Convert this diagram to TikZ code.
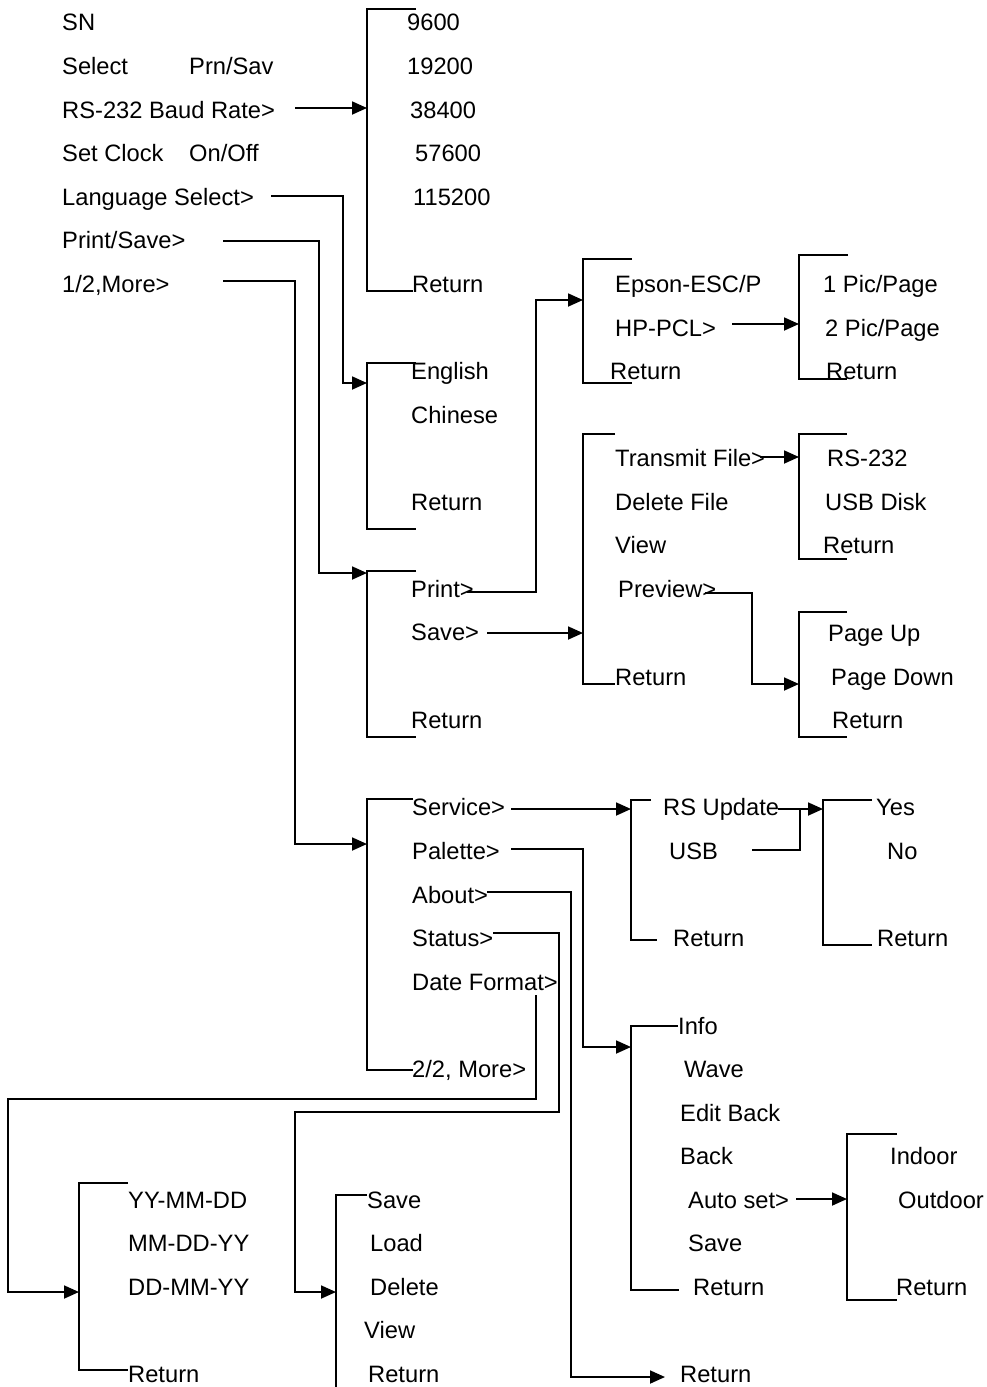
\documentclass[tikz,border=0pt]{standalone}
\usepackage{fontspec}
\setmainfont{Liberation Sans}
\usetikzlibrary{arrows.meta}
\tikzset{
  lbl/.style={anchor=base west,inner sep=0pt,font=\fontsize{23.7}{28}\selectfont},
  wire/.style={line width=1.8pt},
  arr/.style={wire,-{Triangle[length=15pt,width=13pt]}},
  brk/.style={wire}
}
% item text: name, x, y of the text centre line, text
\newcommand\itm[4]{\node[lbl] (#1) at (#2,#3+8.5) {#4};}
\begin{document}
\begin{tikzpicture}[x=1pt,y=-1pt]
\useasboundingbox (0,0) rectangle (987,1387);

% ---- main menu
\itm{sn}{62}{22}{SN}
\itm{sel}{62}{66}{Select}
\itm{prnsav}{189}{66}{Prn/Sav}
\itm{baud}{62}{110}{RS-232 Baud Rate>}
\itm{clk}{62}{153}{Set Clock}
\itm{onoff}{189}{153}{On/Off}
\itm{lang}{62}{197}{Language Select>}
\itm{ps}{62}{240}{Print/Save>}
\itm{more}{62}{284}{1/2,More>}

% ---- baud rates
\itm{b1}{407}{22}{9600}
\itm{b2}{407}{66}{19200}
\itm{b3}{410}{110}{38400}
\itm{b4}{415}{153}{57600}
\itm{b5}{413}{197}{115200}
\itm{bret}{412}{284}{Return}
\draw[brk] (416,9) -- (367,9) -- (367,291) -- (413,291);
\coordinate (baudOut) at (295,108);
\coordinate (baudIn) at (367,108);
\draw[arr] (baudOut) -- (baudIn);

% ---- language
\itm{eng}{411}{371}{English}
\itm{chn}{411}{415}{Chinese}
\itm{lret}{411}{502}{Return}
\draw[brk] (416,363) -- (367,363) -- (367,529) -- (416,529);
\coordinate (langOut) at (271,196);
\coordinate (langIn) at (367,383);
\draw[arr] (langOut) -| (343,383) -- (langIn);

% ---- print / save
\itm{prt}{411}{589}{Print>}
\itm{sav}{411}{632}{Save>}
\itm{pret}{411}{720}{Return}
\draw[brk] (416,571) -- (367,571) -- (367,737) -- (416,737);
\coordinate (psOut) at (223,241);
\coordinate (psIn) at (367,573);
\draw[arr] (psOut) -| (319,573) -- (psIn);

% ---- printer type
\itm{eps}{615}{284}{Epson-ESC/P}
\itm{hp}{615}{328}{HP-PCL>}
\itm{eret}{610}{371}{Return}
\draw[brk] (632,259) -- (583,259) -- (583,383) -- (632,383);
\coordinate (prtOut) at (467,592);
\coordinate (prtIn) at (583,300);
\draw[arr] (prtOut) -| (536,300) -- (prtIn);

% ---- pictures per page
\itm{pic1}{823}{284}{1 Pic/Page}
\itm{pic2}{825}{328}{2 Pic/Page}
\itm{picret}{826}{371}{Return}
\draw[brk] (848,255) -- (799,255) -- (799,379) -- (847,379);
\coordinate (hpOut) at (732,324);
\coordinate (hpIn) at (799,324);
\draw[arr] (hpOut) -- (hpIn);

% ---- save menu
\itm{tx}{615}{458}{Transmit File>}
\itm{del}{615}{502}{Delete File}
\itm{view}{615}{545}{View}
\itm{prev}{618}{589}{Preview>}
\itm{sret}{615}{677}{Return}
\draw[brk] (615,434) -- (583,434) -- (583,684) -- (615,684);
\coordinate (savOut) at (487,633);
\coordinate (savIn) at (583,633);
\draw[arr] (savOut) -- (savIn);

% ---- transmit port
\itm{rs}{827}{458}{RS-232}
\itm{usbd}{825}{502}{USB Disk}
\itm{tret}{823}{545}{Return}
\draw[brk] (847,434) -- (799,434) -- (799,559) -- (847,559);
\coordinate (txOut) at (760,457);
\coordinate (txIn) at (799,457);
\draw[arr] (txOut) -- (txIn);

% ---- preview pages
\itm{pup}{828}{633}{Page Up}
\itm{pdn}{831}{677}{Page Down}
\itm{pvret}{832}{720}{Return}
\draw[brk] (847,612) -- (799,612) -- (799,737) -- (847,737);
\coordinate (prevOut) at (705,593);
\coordinate (prevIn) at (799,684);
\draw[arr] (prevOut) -| (752,684) -- (prevIn);

% ---- second page of main menu
\itm{svc}{412}{807}{Service>}
\itm{pal}{412}{851}{Palette>}
\itm{abt}{412}{895}{About>}
\itm{sts}{412}{938}{Status>}
\itm{dfm}{412}{982}{Date Format>}
\itm{more2}{412}{1069}{2/2, More>}
\draw[brk] (413,799) -- (367,799) -- (367,1070) -- (413,1070);
\coordinate (moreOut) at (223,281);
\coordinate (moreIn) at (367,844);
\draw[arr] (moreOut) -| (295,844) -- (moreIn);

% ---- service
\itm{rsu}{663}{807}{RS Update}
\itm{usb}{669}{851}{USB}
\itm{svret}{673}{938}{Return}
\draw[brk] (651,800) -- (631,800) -- (631,940) -- (657,940);
\coordinate (svcOut) at (511,809);
\coordinate (svcIn) at (631,809);
\draw[arr] (svcOut) -- (svcIn);

% ---- confirm update
\itm{yes}{876}{807}{Yes}
\itm{no}{887}{851}{No}
\itm{yret}{877}{938}{Return}
\draw[brk] (872,800) -- (823,800) -- (823,945) -- (872,945);
\coordinate (rsuOut) at (778,809);
\coordinate (usbOut) at (752,850);
\coordinate (updJoin) at (800,809);
\coordinate (updIn) at (823,809);
\draw[wire] (rsuOut) -- (updJoin);
\draw[wire] (usbOut) -| (updJoin);
\draw[arr] (updJoin) -- (updIn);

% ---- palette
\itm{info}{678}{1026}{Info}
\itm{wave}{684}{1069}{Wave}
\itm{edb}{680}{1113}{Edit Back}
\itm{back}{680}{1156}{Back}
\itm{auto}{688}{1200}{Auto set>}
\itm{psav}{688}{1243}{Save}
\itm{palret}{693}{1287}{Return}
\draw[brk] (678,1026) -- (631,1026) -- (631,1290) -- (679,1290);
\coordinate (palOut) at (511,849);
\coordinate (palIn) at (631,1047);
\draw[arr] (palOut) -| (583,1047) -- (palIn);

% ---- auto set
\itm{ind}{890}{1156}{Indoor}
\itm{outd}{898}{1200}{Outdoor}
\itm{aret}{896}{1287}{Return}
\draw[brk] (897,1134) -- (847,1134) -- (847,1300) -- (897,1300);
\coordinate (autoOut) at (796,1199);
\coordinate (autoIn) at (847,1199);
\draw[arr] (autoOut) -- (autoIn);

% ---- date format
\itm{d1}{128}{1200}{YY-MM-DD}
\itm{d2}{128}{1243}{MM-DD-YY}
\itm{d3}{128}{1287}{DD-MM-YY}
\itm{dret}{128}{1374}{Return}
\draw[brk] (128,1183) -- (79,1183) -- (79,1370) -- (128,1370);
\coordinate (dfmOut) at (536,995);
\coordinate (dfmIn) at (79,1292);
\draw[arr] (dfmOut) -- (536,1099) -- (8,1099) -- (8,1292) -- (dfmIn);

% ---- status
\itm{ssav}{367}{1200}{Save}
\itm{sload}{370}{1243}{Load}
\itm{sdel}{370}{1287}{Delete}
\itm{sview}{364}{1330}{View}
\itm{ssret}{368}{1374}{Return}
\draw[brk] (367,1195) -- (336,1195) -- (336,1387);
\coordinate (stsOut) at (493,933);
\coordinate (stsIn) at (336,1292);
\draw[arr] (stsOut) -- (559,933) -- (559,1112) -- (295,1112) -- (295,1292) -- (stsIn);

% ---- about
\itm{abret}{680}{1374}{Return}
\coordinate (abtOut) at (487,892);
\coordinate (abtIn) at (665,1377);
\draw[arr] (abtOut) -- (571,892) -- (571,1377) -- (abtIn);

\end{tikzpicture}
\end{document}
